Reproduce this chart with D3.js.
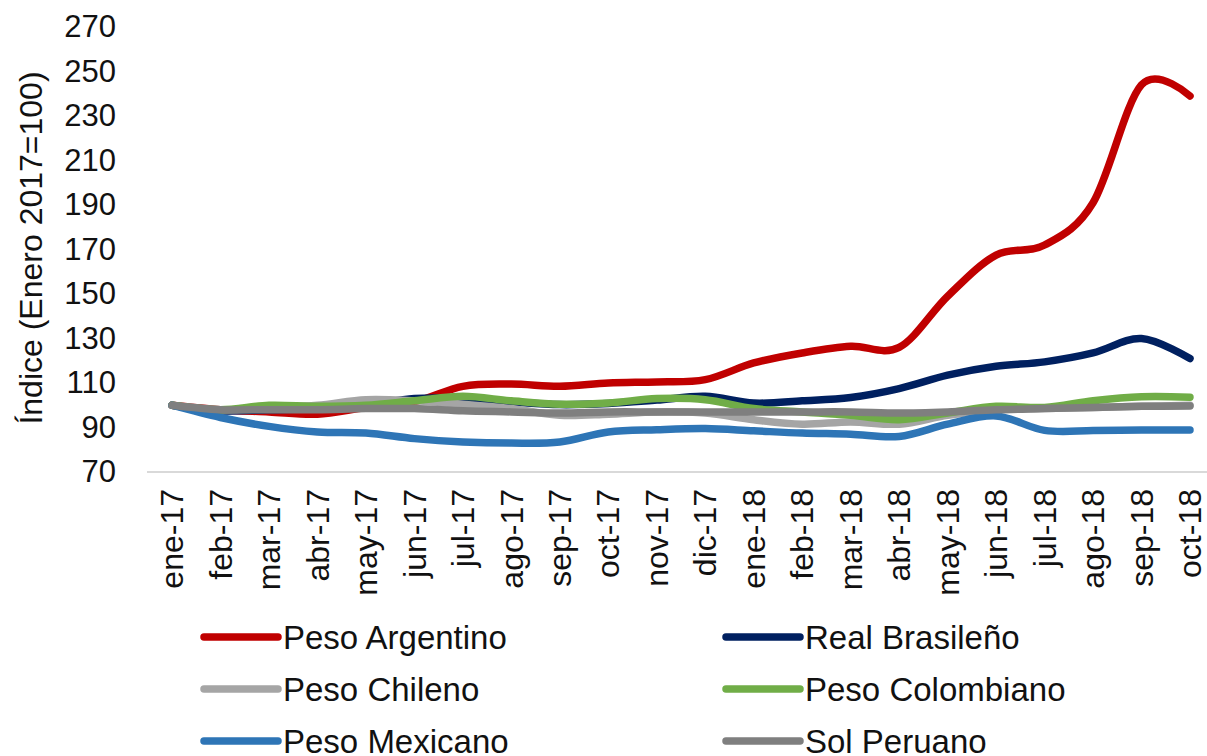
<!DOCTYPE html>
<meta charset="utf-8">
<title>tipos de cambio</title>
<style>
    body { margin: 0; background: #fff; }
    text { font-family: "Liberation Sans", Arial, sans-serif; fill: #111; }
</style>
<body>
<script src="https://d3js.org/d3.v7.min.js"></script>
<div id="chart"></div>
<script>
    var width = 1207;
    var height = 756;

    var months = ["ene-17", "feb-17", "mar-17", "abr-17", "may-17", "jun-17", "jul-17", "ago-17",
        "sep-17", "oct-17", "nov-17", "dic-17", "ene-18", "feb-18", "mar-18", "abr-18",
        "may-18", "jun-18", "jul-18", "ago-18", "sep-18", "oct-18"];

    var yTicks = [70, 90, 110, 130, 150, 170, 190, 210, 230, 250, 270];

    // values
    var pesoArgentino = [100, 98, 97, 96, 99, 101.5, 108.5, 109.5, 108.5, 110, 110.5, 111.5,
        119, 123.5, 126.5, 126, 149, 167.5, 172, 191, 244, 239];
    var realBrasileno = [100, 97.5, 98, 98.5, 100, 103, 103, 101.5, 100.3, 100.8, 102.3, 104,
        101, 102, 103.5, 107.5, 113.5, 117.5, 119.5, 123.5, 130, 121];
    var pesoChileno = [100, 98, 99, 100, 102.5, 102, 100.5, 98.5, 95.5, 96, 97, 96.5,
        93.5, 91.5, 92.5, 91.5, 95.5, 98, 98.5, 99, 99.5, 100];
    var pesoColombiano = [100, 98, 100, 99.5, 100, 102, 104, 102, 100.5, 101, 103, 102.5,
        98.5, 97, 95.5, 93.5, 96.5, 99.5, 99, 102, 103.8, 103.6];
    var pesoMexicano = [100, 94.5, 90.5, 88, 87.5, 85, 83.5, 83, 83.5, 88, 89, 89.5,
        88.5, 87.5, 87, 86, 91.5, 95.2, 88.7, 88.6, 88.9, 88.9];
    var solPeruano = [100, 98, 98, 98, 98.5, 98.5, 97.5, 97, 96.5, 97, 97, 97,
        97, 97, 97, 96.5, 97, 98, 98.5, 99, 99.5, 99.7];

    var series = [
        {name: "Peso Argentino", color: "#C00000", values: pesoArgentino},
        {name: "Real Brasileño", color: "#002060", values: realBrasileno},
        {name: "Peso Chileno", color: "#A5A5A5", values: pesoChileno},
        {name: "Peso Colombiano", color: "#70AD47", values: pesoColombiano},
        {name: "Peso Mexicano", color: "#2E75B6", values: pesoMexicano},
        {name: "Sol Peruano", color: "#7F7F7F", values: solPeruano}
    ];

    var svg = d3.select("#chart").append("svg")
        .attr("width", width)
        .attr("height", height);

    var x = d3.scalePoint()
        .domain(months)
        .range([172, 1190]);

    var y = d3.scaleLinear()
        .domain([70, 270])
        .range([472, 27]);

    // y axis labels
    var yAxis = d3.axisLeft(y).tickValues(yTicks).tickSize(0).tickPadding(0);
    svg.append("g")
        .attr("transform", "translate(116,0)")
        .call(yAxis)
        .call(g => g.select(".domain").remove())
        .selectAll("text")
        .style("font-size", "31px")
        .style("fill", "#111")
        .style("font-family", "'Liberation Sans', Arial, sans-serif");

    // category axis line
    svg.append("line")
        .attr("x1", 147).attr("x2", width)
        .attr("y1", y(70)).attr("y2", y(70))
        .style("stroke", "#D9D9D9")
        .style("stroke-width", 2);

    // x labels, rotated
    svg.append("g")
        .selectAll("text")
        .data(months)
        .enter().append("text")
        .attr("transform", d => "translate(" + x(d) + ",489) rotate(-90)")
        .attr("dy", "0.35em")
        .style("text-anchor", "end")
        .style("font-size", "32px")
        .text(d => d);

    // y title
    svg.append("text")
        .attr("transform", "translate(31,248) rotate(-90)")
        .attr("dy", "0.35em")
        .style("text-anchor", "middle")
        .style("font-size", "32px")
        .text("Índice (Enero 2017=100)");

    var line = d3.line()
        .x((d, i) => x(months[i]))
        .y(d => y(d))
        .curve(d3.curveCardinal.tension(0));

    svg.append("g")
        .selectAll("path")
        .data(series)
        .enter().append("path")
        .attr("d", d => line(d.values))
        .style("fill", "none")
        .style("stroke", d => d.color)
        .style("stroke-width", 7.5)
        .style("stroke-linecap", "round")
        .style("stroke-linejoin", "round");

    // legend, two columns
    var legend = svg.append("g")
        .selectAll("g")
        .data(series)
        .enter().append("g")
        .attr("transform", (d, i) => "translate(" + (i % 2 === 0 ? 204 : 726) + "," + (637 + Math.floor(i / 2) * 52) + ")");

    legend.append("line")
        .attr("x1", 0).attr("x2", 74)
        .style("stroke", d => d.color)
        .style("stroke-width", 7.5)
        .style("stroke-linecap", "round");

    legend.append("text")
        .attr("x", 79)
        .attr("dy", "0.35em")
        .style("font-size", "33px")
        .text(d => d.name);
</script>
</body>
